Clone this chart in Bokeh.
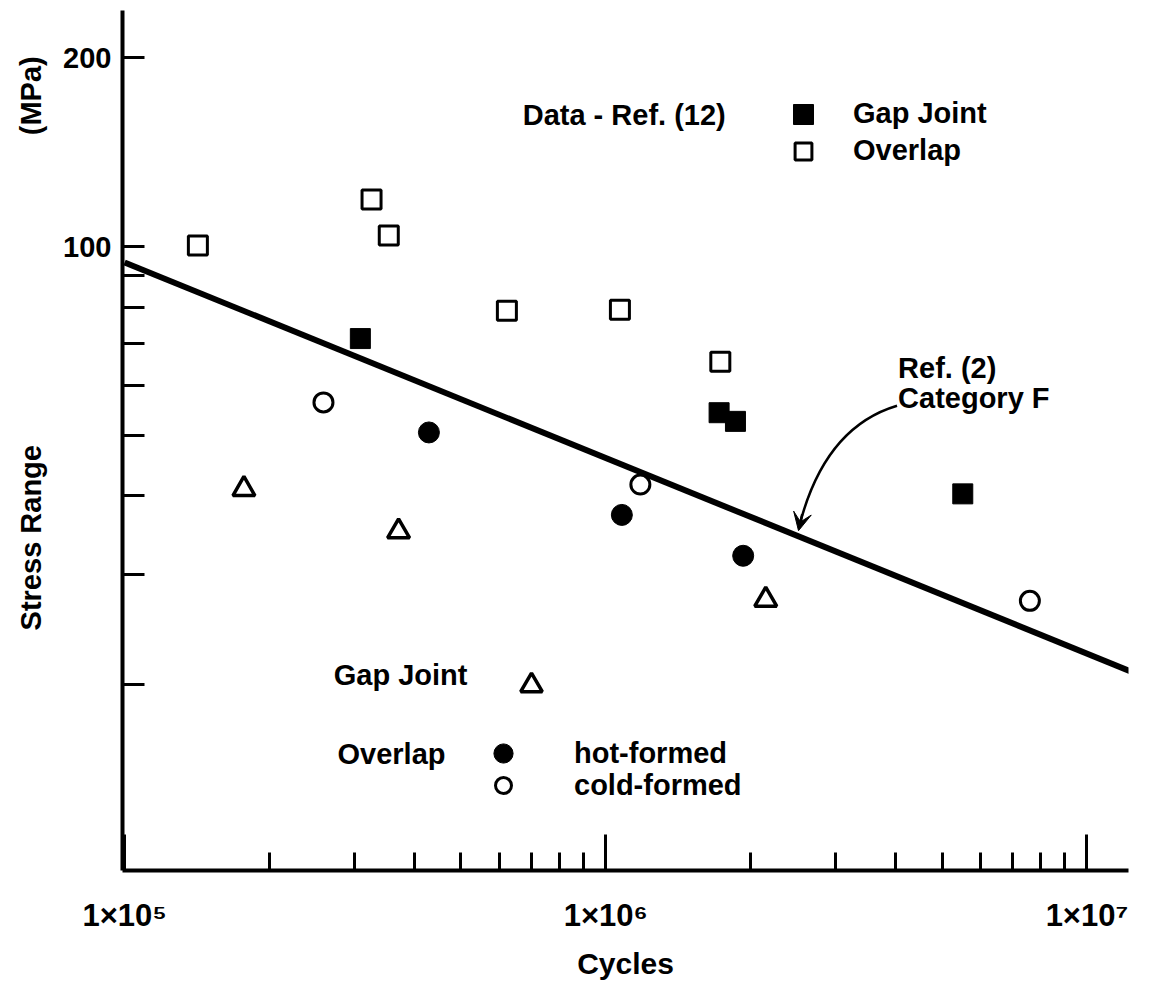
import math
from bokeh.plotting import figure
from bokeh.layouts import row
from bokeh.models import (FixedTicker, Label, Legend, LegendItem, Arrow, VeeHead, Range1d)
from bokeh.core.properties import value
from bokeh.embed import file_html
from bokeh.resources import INLINE

FONT = "Liberation Sans"

# ---------------- data ----------------
# Data - Ref. (12): Gap Joint (filled squares)
gap_sq_x = [3.09e5, 1.72e6, 1.86e6, 5.52e6]
gap_sq_y = [71.3, 54.3, 52.6, 40.3]
# Data - Ref. (12): Overlap (open squares)
ovl_sq_x = [1.42e5, 3.26e5, 3.54e5, 6.23e5, 1.07e6, 1.73e6]
ovl_sq_y = [100.4, 118.9, 104.1, 79.0, 79.3, 65.5]
# Gap Joint (triangles)
tri_x = [1.77e5, 3.71e5, 2.15e6]
tri_y = [41.0, 35.1, 27.3]
# Overlap hot-formed (filled circles)
hot_x = [4.29e5, 1.08e6, 1.93e6]
hot_y = [50.5, 37.3, 32.1]
# Overlap cold-formed (open circles)
cold_x = [2.59e5, 1.18e6, 7.61e6]
cold_y = [56.4, 41.7, 27.2]
# Ref. (2) Category F design line
cat_f_x = [1.0e5, 1.25e7]
cat_f_y = [94.3, 20.9]

# axes ticks / labels
x_major_ticks = [1e5, 1e6, 1e7]
x_tick_labels = ["1\u00d710\u2075", "1\u00d710\u2076", "1\u00d710\u2077"]
x_minor_ticks = [2e5, 3e5, 4e5, 5e5, 6e5, 7e5, 8e5, 9e5,
                 2e6, 3e6, 4e6, 5e6, 6e6, 7e6, 8e6, 9e6]
y_major_ticks = [100, 200]
y_tick_labels = ["100", "200"]
y_minor_ticks = [20, 30, 40, 50, 60, 70, 80, 90]
y_title_parts = ["Stress Range", "(MPa)"]
y_title_pos = [34.3, 174.0]

HEIGHT = 983
TOP = 10
BOTTOM = 113

y_range = Range1d(10.1, 238)

# ---------------- main figure ----------------
p = figure(width=1091, height=HEIGHT, x_axis_type="log", y_axis_type="log",
           x_range=Range1d(0.99e5, 1.22e7), y_range=y_range,
           output_backend="svg", toolbar_location=None, title=None,
           min_border_left=62, min_border_right=23, min_border_top=TOP,
           min_border_bottom=BOTTOM)
p.grid.visible = False
p.outline_line_color = None
p.background_fill_color = "white"
p.border_fill_color = "white"

xa = p.xaxis[0]
xa.ticker = FixedTicker(ticks=x_major_ticks, minor_ticks=x_minor_ticks)
xa.major_label_overrides = {t: s for t, s in zip(x_major_ticks, x_tick_labels)}
xa.axis_line_width = 4
xa.axis_line_color = "black"
xa.major_tick_in = 36
xa.major_tick_out = 0
xa.minor_tick_in = 18
xa.minor_tick_out = 0
xa.major_tick_line_width = 3
xa.minor_tick_line_width = 3
xa.major_tick_line_color = "black"
xa.minor_tick_line_color = "black"
xa.major_label_text_font = FONT
xa.major_label_text_font_style = "bold"
xa.major_label_text_font_size = "31px"
xa.major_label_text_color = "black"
xa.major_label_standoff = 27
xa.axis_label = "Cycles"
xa.axis_label_text_font = FONT
xa.axis_label_text_font_style = "bold"
xa.axis_label_text_font_size = "30px"
xa.axis_label_text_color = "black"
xa.axis_label_standoff = 11

ya = p.yaxis[0]
ya.ticker = FixedTicker(ticks=y_major_ticks, minor_ticks=y_minor_ticks)
ya.major_label_overrides = {t: s for t, s in zip(y_major_ticks, y_tick_labels)}
ya.axis_line_width = 4
ya.axis_line_color = "black"
ya.major_tick_in = 22
ya.major_tick_out = 0
ya.minor_tick_in = 22
ya.minor_tick_out = 0
ya.major_tick_line_width = 3
ya.minor_tick_line_width = 3
ya.major_tick_line_color = "black"
ya.minor_tick_line_color = "black"
ya.major_label_text_font = FONT
ya.major_label_text_font_style = "bold"
ya.major_label_text_font_size = "29px"
ya.major_label_text_color = "black"
ya.major_label_standoff = 11

# ---------------- glyphs ----------------
p.line(cat_f_x, cat_f_y, line_width=6, line_color="black")

r_gap_sq = p.scatter(gap_sq_x, gap_sq_y, marker="square", size=20,
                     fill_color="black", line_color="black", line_width=1)
r_ovl_sq = p.scatter(ovl_sq_x, ovl_sq_y, marker="square", size=19,
                     fill_color="white", line_color="black", line_width=3)
r_tri = p.scatter(tri_x, tri_y, marker="triangle", size=22,
                  fill_color="white", line_color="black", line_width=3.5)
r_hot = p.scatter(hot_x, hot_y, marker="circle", size=21,
                  fill_color="black", line_color="black", line_width=1)
r_cold = p.scatter(cold_x, cold_y, marker="circle", size=19,
                   fill_color="white", line_color="black", line_width=3)

# curved pointer to the Category F line
p.quadratic(x0=[4.03e6], y0=[55.7], x1=[2.52e6], y1=[35.6],
            cx=[2.84e6], cy=[51.4], line_width=2.5, line_color="black")
p.add_layout(Arrow(end=VeeHead(size=18, fill_color="black", line_color="black", line_width=1),
                   x_start=2.56e6, y_start=37.4, x_end=2.515e6, y_end=35.2,
                   line_width=2.5, line_color="black"))

# ---------------- legends (one entry each, placed like the original keys) ----------------
def make_legend(label, renderer, loc, glyph, standoff):
    return Legend(items=[LegendItem(label=label, renderers=[renderer])],
                  location=loc, glyph_width=glyph, glyph_height=glyph,
                  spacing=0, padding=0, margin=0, label_standoff=standoff,
                  border_line_color=None, background_fill_alpha=0,
                  label_text_font=FONT, label_text_font_style="bold",
                  label_text_font_size="29px", label_text_color="black")

p.add_layout(make_legend("Gap Joint", r_gap_sq, (656, 731.5), 50, 25))
p.add_layout(make_legend("Overlap", r_ovl_sq, (660, 698.5), 42, 29))
p.add_layout(make_legend(" ", r_tri, (382, 158), 54, 5))
p.add_layout(make_legend("hot-formed", r_hot, (357, 93), 48, 47))
p.add_layout(make_legend("cold-formed", r_cold, (361, 65), 40, 51))

# ---------------- text labels ----------------
def lab(text, x, y):
    return Label(x=x, y=y, text=text, text_font=FONT, text_font_style="bold",
                 text_font_size="29px", text_align="left", text_baseline="middle",
                 text_color="black")

p.add_layout(lab("Data - Ref. (12)", 6.72e5, 162.0))
p.add_layout(lab("Gap Joint", 2.72e5, 20.7))
p.add_layout(lab("Overlap", 2.77e5, 15.52))
p.add_layout(lab("Ref. (2)", 4.05e6, 63.9))
p.add_layout(lab("Category F", 4.05e6, 57.3))

# ---------------- y-axis title strip (shares the y scale) ----------------
strip = figure(width=60, height=HEIGHT, y_axis_type="log",
               x_range=Range1d(0, 1), y_range=y_range,
               x_axis_location=None, y_axis_location=None,
               output_backend="svg", toolbar_location=None, title=None,
               min_border_left=0, min_border_right=0, min_border_top=TOP,
               min_border_bottom=BOTTOM)
strip.grid.visible = False
strip.outline_line_color = None
strip.background_fill_color = "white"
strip.border_fill_color = "white"
strip.text(x=[0.5, 0.5], y=y_title_pos, text=y_title_parts, angle=math.pi / 2,
           text_align="center", text_baseline="middle",
           text_font=value(FONT), text_font_style="bold",
           text_font_size=value("29px"), text_color="black")

layout = row(strip, p, spacing=0)
open("out.html", "w").write(file_html(layout, INLINE))
